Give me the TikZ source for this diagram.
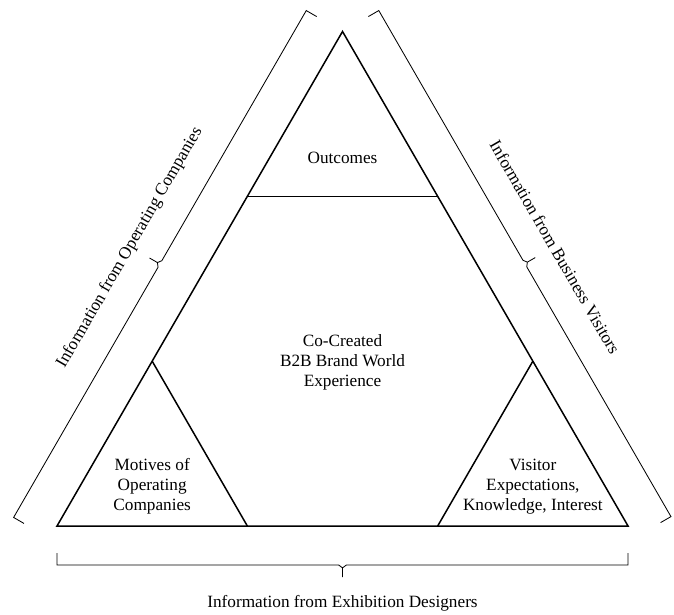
\documentclass[tikz,border=0pt]{standalone}
\usepackage{fontspec}
\setmainfont{Liberation Serif}
\begin{document}
\begin{tikzpicture}[x=2cm,y=2cm,
  side/.style={line width=0.9pt, line join=miter},
  bracket/.style={line width=0.5pt},
  label/.style={font=\fontsize{10.3}{12}\selectfont, align=center, inner sep=0pt}]
  \useasboundingbox (-0.599,-0.935) rectangle (6.483,5.527);
  % corners of the big triangle and the cut points on its sides
  \coordinate (A) at (0,0);
  \coordinate (B) at (6,0);
  \coordinate (C) at (3,5.196);
  \coordinate (ab1) at (2,0);
  \coordinate (ab2) at (4,0);
  \coordinate (ac1) at (1,1.732);
  \coordinate (ac2) at (2,3.464);
  \coordinate (bc1) at (4,3.464);
  \coordinate (bc2) at (5,1.732);
  \draw[side] (A) -- (B) -- (C) -- cycle;
  \draw[side] (ac2) -- (bc1);
  \draw[side] (ac1) -- (ab1);
  \draw[side] (bc2) -- (ab2);
  % braces, one per side
  \foreach \org/\rot/\s/\e/\off in {A/0/0/6/0.41, B/120/-0.14/6/0.44, C/240/0/6.15/0.44}
  {
    \pgfmathsetmacro{\m}{(\s+\e)/2};
    \pgfmathsetmacro{\h}{\off-0.126};
    \begin{scope}[shift={(\org)}, rotate=\rot]
      \draw[bracket] (\s,-\h) -- (\s,-\off) -- (\m-0.04,-\off) -- (\m,-\off-0.03) -- ++(0,-0.096)
        (\m,-\off-0.03) -- (\m+0.04,-\off) -- (\e,-\off) -- (\e,-\h);
    \end{scope}
  }
  % texts
  \node[label] (outcomes) at (3,3.867) {Outcomes};
  \node[label] (core) at (3,1.72) {Co-Created\\B2B Brand World\\Experience};
  \node[label] (motives) at (1,0.42) {Motives of\\Operating\\Companies};
  \node[label] (visitor) at (5,0.41) {Visitor\\Expectations,\\Knowledge, Interest};
  \node[label] (designers) at (3,-0.809) {Information from Exhibition Designers};
  \node[label, rotate=60] (operating) at (0.765,2.925) {Information from Operating Companies};
  \node[label, rotate=-60] (business) at (5.233,2.929) {Information from Business Visitors};
\end{tikzpicture}
\end{document}
